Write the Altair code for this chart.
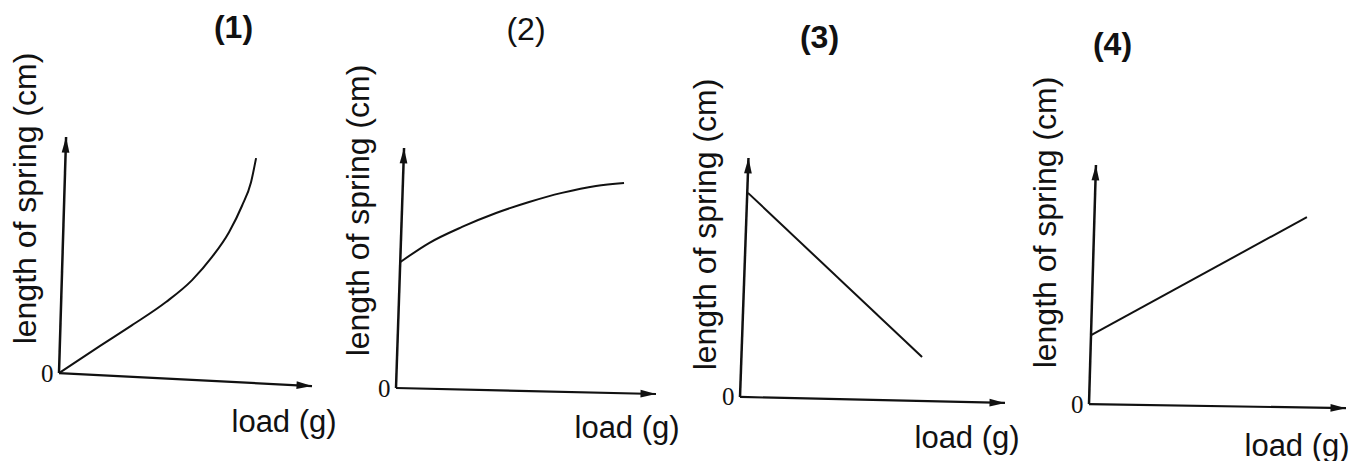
import altair as alt
import pandas as pd

# ---- values (arbitrary units, axis arrow tips = 10) ----
panel_titles = ["(1)", "(2)", "(3)", "(4)"]
title_weights = ["bold", "normal", "bold", "bold"]

p1_load = [0, 1.58, 2.89, 4.23, 5.26, 6.05, 6.72, 7.23, 7.59, 7.79]
p1_length = [0, 1.12, 2.03, 3.01, 3.94, 4.92, 5.97, 7.08, 8.09, 9.11]

p2_load = [0.17, 1.27, 2.54, 3.85, 5.12, 6.38, 7.69, 8.77]
p2_length = [5.25, 6.04, 6.71, 7.29, 7.75, 8.13, 8.42, 8.54]

p3_load = [0.3, 6.87]
p3_length = [8.54, 1.67]

p4_load = [0.1, 8.48]
p4_length = [2.89, 7.82]

# slight skew of the hand-drawn / scanned axes
yaxis_top_load = [0.28, 0.31, 0.32, 0.27]
xaxis_end_length = [-0.55, -0.25, -0.25, -0.17]
axis_tip = 10

curves = [(p1_load, p1_length), (p2_load, p2_length),
          (p3_load, p3_length), (p4_load, p4_length)]

# ---- layout / style ----
widths = [253, 260, 265, 257]
height = 282
y_domains = [[-1.65, 10.30], [-1.0, 10.75], [-0.63, 11.17], [-0.33, 11.46]]
ytitle_x = [-34, -38, -35, -44]
ytitle_y = [68, 80, 94, 92]
xtitle_x = [172, 178, 174, 155]
xtitle_y = [10, 16, 26, 34]
title_dx = [48, 0, -53, -105]
title_dy = [8, -2, -8, 1]
xarrow_angle = [3, 1, 1, 1]
yarrow_angle = [2, 2, 2, 2]

INK = "#111111"
SANS = "Liberation Sans"
UP = "M0,0 L-0.5,2 L0.5,2 Z"
RIGHT = "M0,0 L-2,-0.5 L-2,0.5 Z"

panels = []
for i in range(4):
    load, length = curves[i]
    x_enc = alt.X(
        "load:Q",
        scale=alt.Scale(domain=[0, 10], nice=False, zero=False),
        axis=alt.Axis(title="load (g)", domain=False, ticks=False, labels=False, grid=False,
                      titleX=xtitle_x[i], titleY=xtitle_y[i], titleAlign="left",
                      titleBaseline="middle", titleAngle=0, titleFont=SANS,
                      titleFontSize=31, titleFontWeight="normal", titleColor=INK),
    )
    y_enc = alt.Y(
        "length:Q",
        scale=alt.Scale(domain=y_domains[i], nice=False, zero=False),
        axis=alt.Axis(values=[0], title="length of spring (cm)", domain=False, ticks=False,
                      grid=False, labelFont="Liberation Serif", labelFontSize=25,
                      labelPadding=6, labelColor=INK,
                      titleX=ytitle_x[i], titleY=ytitle_y[i], titleAngle=270,
                      titleAlign="center", titleBaseline="middle", titleFont=SANS,
                      titleFontSize=32, titleFontWeight="normal", titleColor=INK),
    )

    curve_df = pd.DataFrame({"load": load, "length": length})
    yaxis_df = pd.DataFrame({"load": [0, yaxis_top_load[i]], "length": [0, axis_tip]})
    xaxis_df = pd.DataFrame({"load": [0, axis_tip], "length": [0, xaxis_end_length[i]]})
    yhead_df = pd.DataFrame({"load": [yaxis_top_load[i]], "length": [axis_tip]})
    xhead_df = pd.DataFrame({"load": [axis_tip], "length": [xaxis_end_length[i]]})

    curve = alt.Chart(curve_df).mark_line(color=INK, strokeWidth=2, interpolate="monotone").encode(x=x_enc, y=y_enc)
    yaxis = alt.Chart(yaxis_df).mark_line(color=INK, strokeWidth=2.5).encode(x=x_enc, y=y_enc)
    xaxis = alt.Chart(xaxis_df).mark_line(color=INK, strokeWidth=2.2).encode(x=x_enc, y=y_enc)
    yhead = alt.Chart(yhead_df).mark_point(shape=UP, filled=True, color=INK, opacity=1,
                                           size=240, angle=yarrow_angle[i]).encode(x=x_enc, y=y_enc)
    xhead = alt.Chart(xhead_df).mark_point(shape=RIGHT, filled=True, color=INK, opacity=1,
                                           size=240, angle=xarrow_angle[i]).encode(x=x_enc, y=y_enc)

    panel = alt.layer(yaxis, xaxis, curve, yhead, xhead).properties(
        width=widths[i], height=height,
        title=alt.TitleParams(text=panel_titles[i], anchor="middle", frame="group",
                              dx=title_dx[i], dy=title_dy[i], offset=0, baseline="middle",
                              font=SANS, fontSize=32, fontWeight=title_weights[i], color=INK),
    )
    panels.append(panel)

chart = alt.hconcat(*panels, spacing=84, bounds="flush").properties(
    padding={"left": 0, "top": 4, "right": 0, "bottom": 0},
    background="white",
).configure_view(stroke=None)

chart.save("out.html", embed_options={"renderer": "svg", "actions": False})
